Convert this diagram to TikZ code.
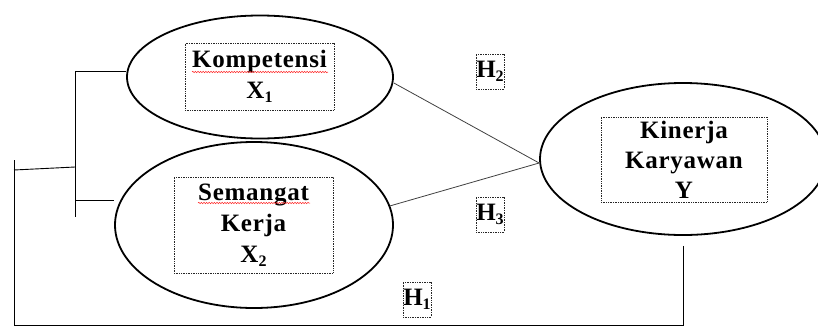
\documentclass[tikz,border=0pt]{standalone}
\usepackage{fontspec}
\usetikzlibrary{shapes.geometric,decorations.pathmorphing}
\newfontfamily\lblfont[LetterSpace=3]{Liberation Serif}
\newcommand{\subidx}[1]{\raisebox{-4.5pt}{\fontsize{16}{16}\selectfont #1}}
\tikzset{
  varell/.style={ellipse, draw=black, line width=1.8pt, inner sep=0pt},
  txtbox/.style={draw=black!85, densely dotted, line width=0.7pt, inner sep=0pt,
    align=center, font=\lblfont\bfseries\fontsize{25}{31}\selectfont},
  hbox/.style={draw=black!85, densely dotted, line width=0.7pt, inner sep=0pt,
    minimum width=28pt, minimum height=35pt, font=\lblfont\bfseries\fontsize{25}{31}\selectfont},
  link/.style={draw=black!75, line width=0.8pt},
  wire/.style={draw=black, line width=0.9pt},
  spell/.style={draw=red!85, line width=0.5pt, decorate,
    decoration={snake, amplitude=0.7pt, segment length=2.6pt}}
}
\begin{document}
\begin{tikzpicture}[x=1pt, y=-1pt]
  \useasboundingbox (0,0) rectangle (818,327);
  \clip (0,0) rectangle (818,327);

  % latent variables
  \node[varell, minimum width=266pt, minimum height=123pt] (komp) at (260,77) {};
  \node[varell, minimum width=278pt, minimum height=166pt] (sem) at (254,225) {};
  \node[varell, minimum width=286pt, minimum height=152pt] (kin) at (683,159) {};

  % labels inside the ellipses
  \node[txtbox, minimum width=149pt, minimum height=67pt] (kompbox) at (259.5,76.5)
    {Kompetensi\\X\subidx{1}};
  \node[txtbox, minimum width=159pt, minimum height=96pt] (sembox) at (253.5,225)
    {Semangat\\Kerja\\X\subidx{2}};
  \node[txtbox, minimum width=166pt, minimum height=85pt,
        font=\lblfont\bfseries\fontsize{25}{30}\selectfont] (kinbox) at (684,159.5)
    {Kinerja\\Karyawan\\Y};

  % spell-check marks under the words
  \draw[spell] (192,72) -- (328,72);
  \draw[spell] (198,203) -- (310,203);

  % hypothesis labels
  \node[hbox] (h2) at (490,71.5) {H\subidx{2}};
  \node[hbox] (h3) at (490,214.5) {H\subidx{3}};
  \node[hbox] (h1) at (417,299.5) {H\subidx{1}};

  % partial paths
  \coordinate (ke) at ([yshift=-6pt]komp.east);
  \coordinate (kw) at ([yshift=-4pt]kin.west);
  \draw[link] (ke) -- (kw);
  \draw[link] (sem.8) -- (kw);

  % bracket joining X1 and X2
  \coordinate (bt) at (75,71);
  \coordinate (bb) at (75,217);
  \coordinate (bs) at (75,200);
  \coordinate (bm) at (75,167);
  \draw[wire] (bt) -- (bb);
  \draw[wire] (bt) -- (komp.west |- bt);
  \draw[wire] (bs) -- (sem.west |- bs);

  % simultaneous path back to Y
  \coordinate (lt) at (14,160);
  \coordinate (lm) at (14,170);
  \coordinate (lb) at (14,325);
  \draw[wire] (lm) -- (bm);
  \draw[wire] ([yshift=-10pt]kin.south) -- (kin.south |- lb) -- (lb) -- (lt);
\end{tikzpicture}
\end{document}
